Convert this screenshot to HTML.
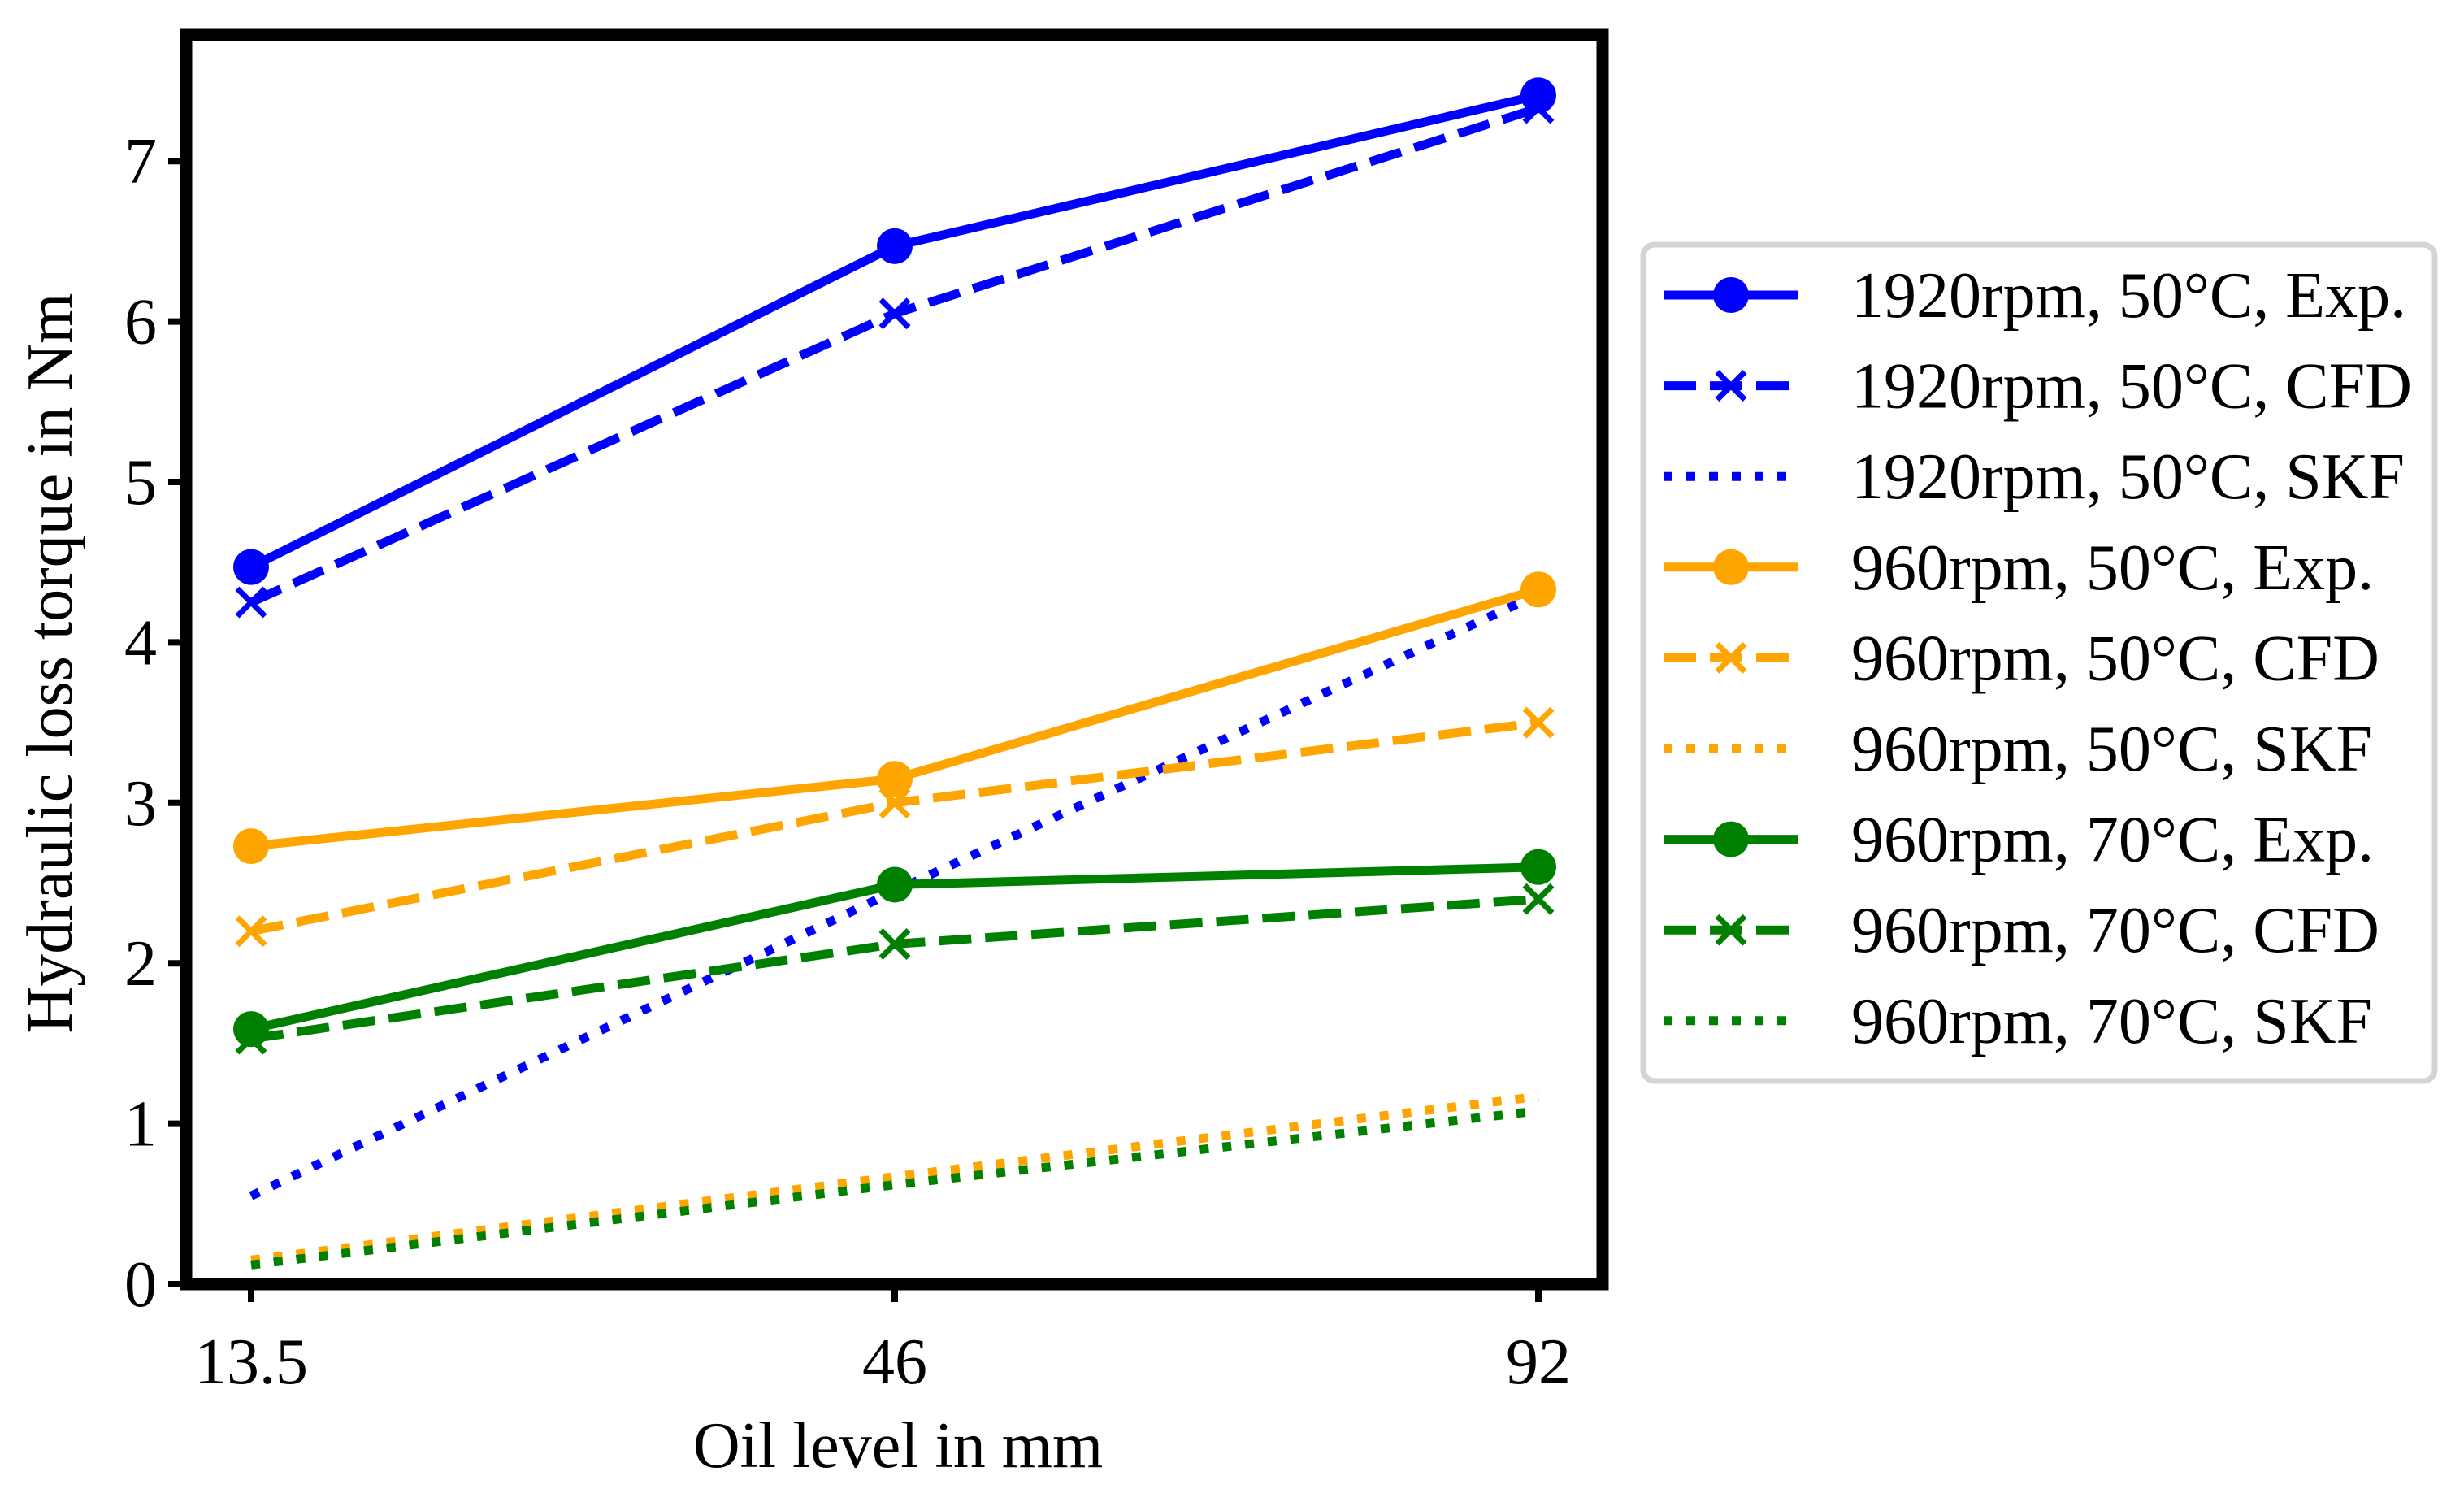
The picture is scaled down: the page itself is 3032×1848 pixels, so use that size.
<!DOCTYPE html>
<html><head><meta charset="utf-8"><style>
html,body{margin:0;padding:0;background:#fff;}
svg{display:block;font-family:"Liberation Serif",serif;}
</style></head><body>
<svg id="chart" width="3032" height="1848" viewBox="0 0 3032 1848" xmlns="http://www.w3.org/2000/svg">
<g id="plot"></g>
<g id="axes"></g>
<g id="legend"></g>
</svg>
<script>
const categories = ["13.5", "46", "92"];
const yTicks = [0, 1, 2, 3, 4, 5, 6, 7];
const seriesNames = ["1920rpm, 50°C, Exp.", "1920rpm, 50°C, CFD", "1920rpm, 50°C, SKF",
  "960rpm, 50°C, Exp.", "960rpm, 50°C, CFD", "960rpm, 50°C, SKF",
  "960rpm, 70°C, Exp.", "960rpm, 70°C, CFD", "960rpm, 70°C, SKF"];
const blueExp = [4.47, 6.47, 7.41];
const blueCFD = [4.25, 6.05, 7.33];
const blueSKF = [0.55, 2.45, 4.30];
const orangeExp = [2.73, 3.15, 4.33];
const orangeCFD = [2.20, 3.00, 3.50];
const orangeSKF = [0.15, 0.67, 1.17];
const greenExp = [1.59, 2.49, 2.60];
const greenCFD = [1.53, 2.12, 2.40];
const greenSKF = [0.12, 0.62, 1.08];

const NS = "http://www.w3.org/2000/svg";
const L = 229, R = 1972, T = 43, B = 1580;
const X0 = 309, XSTEP = 792;
const Y0 = 1580, YUNIT = 197.4;
function xs(i){ return X0 + i * XSTEP; }
function ys(v){ return Y0 - v * YUNIT; }
function mk(tag, attrs, parent){ const e = document.createElementNS(NS, tag); for (const k in attrs) e.setAttribute(k, attrs[k]); parent.appendChild(e); return e; }

const colors = {b:"#0000ff", o:"#ffa500", g:"#008000"};
const styles = {exp:{dash:null, marker:"o"}, cfd:{dash:"40 17", marker:"x"}, skf:{dash:"11 17", marker:null}};
const series = [
  {v:blueExp,c:colors.b,s:styles.exp,n:"blue-exp"},{v:blueCFD,c:colors.b,s:styles.cfd,n:"blue-cfd"},{v:blueSKF,c:colors.b,s:styles.skf,n:"blue-skf"},
  {v:orangeExp,c:colors.o,s:styles.exp,n:"orange-exp"},{v:orangeCFD,c:colors.o,s:styles.cfd,n:"orange-cfd"},{v:orangeSKF,c:colors.o,s:styles.skf,n:"orange-skf"},
  {v:greenExp,c:colors.g,s:styles.exp,n:"green-exp"},{v:greenCFD,c:colors.g,s:styles.cfd,n:"green-cfd"},{v:greenSKF,c:colors.g,s:styles.skf,n:"green-skf"}];

function drawMarker(type, x, y, c, parent, name){
  let m;
  if (type === "o") m = mk("circle", {cx:x, cy:y, r:22, fill:c}, parent);
  else if (type === "x") m = mk("path", {d:`M${x-17} ${y-17}L${x+17} ${y+17}M${x-17} ${y+17}L${x+17} ${y-17}`, stroke:c, "stroke-width":7, fill:"none"}, parent);
  if (m) {
    
    
  }
}

const plot = document.getElementById("plot");
series.forEach(se => {
  const g = mk("g", {}, plot);
  
  
  const pts = se.v.map((v,i) => xs(i) + "," + ys(v)).join(" ");
  const a = {points:pts, fill:"none", stroke:se.c, "stroke-width":11};
  if (se.s.dash) a["stroke-dasharray"] = se.s.dash;
  const pl = mk("polyline", a, g);
  
  
  se.v.forEach((v,i) => drawMarker(se.s.marker, xs(i), ys(v), se.c, g, 'point-' + se.n));
});

const axes = document.getElementById("axes");
const frame = mk("rect", {x:L, y:T, width:R-L, height:B-T, fill:"none", stroke:"#000", "stroke-width":15}, axes);


yTicks.forEach(t => {
  const y = ys(t);
  const tk = mk("line", {x1:L-22, x2:L, y1:y, y2:y, stroke:"#000", "stroke-width":8}, axes);
  
  
  const tx = mk("text", {x:L-36, y:y+27, "text-anchor":"end", "font-size":80}, axes);
  tx.textContent = t;
  
  
});
categories.forEach((c,i) => {
  const x = xs(i);
  const tk = mk("line", {x1:x, x2:x, y1:B, y2:B+22, stroke:"#000", "stroke-width":8}, axes);
  
  
  const tx = mk("text", {x:x, y:1702, "text-anchor":"middle", "font-size":80}, axes);
  tx.textContent = c;
  
  
});
const xt = mk("text", {x:1105, y:1805, "text-anchor":"middle", "font-size":80}, axes);
xt.textContent = "Oil level in mm";


const yt = mk("text", {x:0, y:0, "text-anchor":"middle", "font-size":80, transform:"translate(88,816) rotate(-90)"}, axes);
yt.textContent = "Hydraulic loss torque in Nm";



const leg = document.getElementById("legend");
const box = mk("rect", {x:2022, y:301, width:974, height:1029, rx:14, fill:"#fff", stroke:"#d4d4d4", "stroke-width":7}, leg);


seriesNames.forEach((name,i) => {
  const se = series[i];
  const y = 363 + i * 111.6;
  const g = mk("g", {}, leg);
  
  
  const a = {x1:2047, x2:2212, y1:y, y2:y, stroke:se.c, "stroke-width":11};
  if (se.s.dash) a["stroke-dasharray"] = se.s.dash;
  mk("line", a, g);
  drawMarker(se.s.marker, 2130, y, se.c, g, 'legend-marker');
  const tx = mk("text", {x:2278, y:y+27, "font-size":80}, g);
  tx.textContent = name;
  
  
});
</script>
</body></html>
